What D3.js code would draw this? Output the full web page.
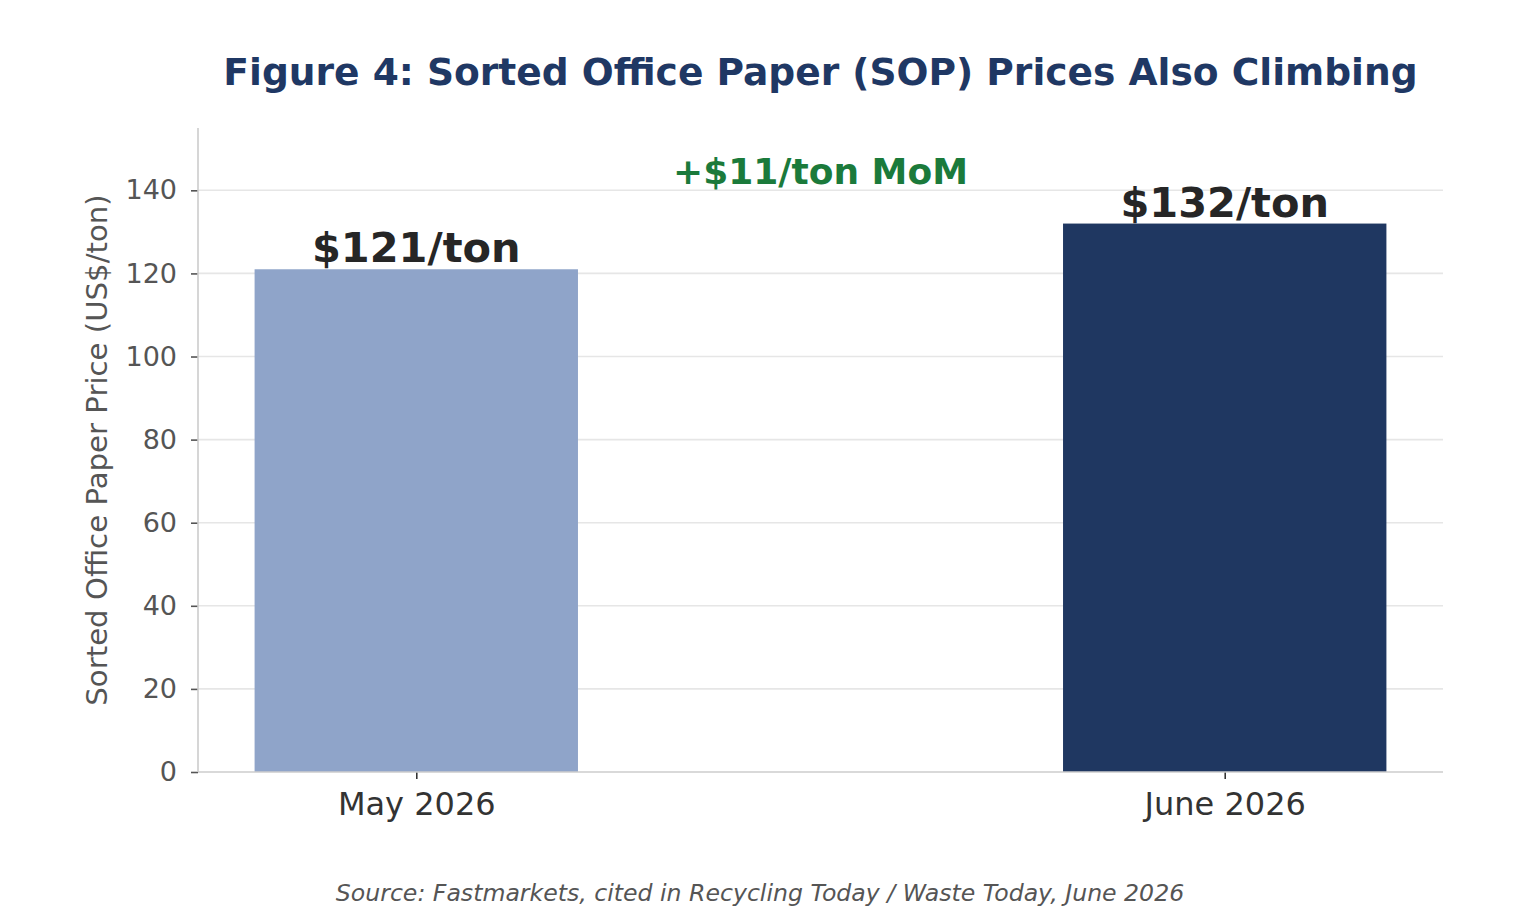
<!DOCTYPE html>
<html><head><meta charset="utf-8">
<script src="https://cdn.jsdelivr.net/npm/d3@7"></script>
<style>body{margin:0;background:#fff;} svg{display:block;font-family:"DejaVu Sans",sans-serif;}</style>
</head><body>
<svg id="c" width="1520" height="919"></svg>
<script>
const categories = ["May 2026", "June 2026"];
const prices = [121, 132];
const valueLabels = ["$121/ton", "$132/ton"];
const barColors = ["#8fa4c9", "#1f3761"];
const yTicks = [0, 20, 40, 60, 80, 100, 120, 140];
const titleText = "Figure 4: Sorted Office Paper (SOP) Prices Also Climbing";
const yLabel = "Sorted Office Paper Price (US$/ton)";
const changeText = "+$11/ton MoM";
const sourceText = "Source: Fastmarkets, cited in Recycling Today / Waste Today, June 2026";

const svg = d3.select("#c");
const m = {left:198, right:1443, top:128, bottom:772};

const x = d3.scaleLinear().domain([-0.27, 1.27]).range([m.left, m.right]);
const y = d3.scaleLinear().domain([0, 155]).range([m.bottom, m.top]);
const barW = 0.4;

// grid
svg.append("g").selectAll("line").data(yTicks.filter(d=>d>0)).join("line")
  .attr("x1", m.left).attr("x2", m.right)
  .attr("y1", d=>y(d)).attr("y2", d=>y(d))
  .attr("stroke", "#e6e6e6").attr("stroke-width", 1.6);

// bars
svg.append("g").selectAll("rect").data(prices).join("rect")
  .attr("x", (d,i)=>x(i - barW/2)).attr("width", (d,i)=>x(i+barW/2)-x(i-barW/2))
  .attr("y", d=>y(d)).attr("height", d=>y(0)-y(d))
  .attr("fill", (d,i)=>barColors[i]);

// y axis
const ya = svg.append("g").attr("transform", `translate(${m.left},0)`)
  .call(d3.axisLeft(y).tickValues(yTicks).tickSize(7).tickPadding(14));
ya.select(".domain").remove();
ya.selectAll(".tick line").attr("stroke", "#555").attr("stroke-width", 1.6);
ya.selectAll(".tick text").attr("fill", "#555").style("font-size", "27px").style("font-family", "DejaVu Sans");

// x axis
const xa = svg.append("g").attr("transform", `translate(0,${m.bottom})`)
  .call(d3.axisBottom(x).tickValues([0,1]).tickFormat((d)=>categories[d]).tickSize(7).tickPadding(13));
xa.select(".domain").remove();
xa.selectAll(".tick line").attr("stroke", "#333").attr("stroke-width", 1.6);
xa.selectAll(".tick text").attr("fill", "#333").style("font-size", "32px").style("font-family", "DejaVu Sans");

// spines
svg.append("line").attr("x1", m.left).attr("x2", m.left).attr("y1", m.top).attr("y2", m.bottom)
  .attr("stroke", "#cccccc").attr("stroke-width", 1.6);
svg.append("line").attr("x1", m.left).attr("x2", m.right).attr("y1", m.bottom).attr("y2", m.bottom)
  .attr("stroke", "#cccccc").attr("stroke-width", 1.6);

// value labels
svg.append("g").selectAll("text").data(prices).join("text")
  .attr("x", (d,i)=>x(i)).attr("y", d=>y(d)-7)
  .attr("text-anchor", "middle").attr("fill", "#262626")
  .style("font-size", "41.5px").style("font-weight", "bold")
  .text((d,i)=>valueLabels[i]);

// change annotation
svg.append("text").attr("x", x(0.5)).attr("y", y(141.5))
  .attr("text-anchor", "middle").attr("fill", "#1b7a3b")
  .style("font-size", "36px").style("font-weight", "bold").text(changeText);

// title
svg.append("text").attr("x", (m.left+m.right)/2).attr("y", 85)
  .attr("text-anchor", "middle").attr("fill", "#1f3864")
  .style("font-size", "37.6px").style("font-weight", "bold").text(titleText);

// y label
svg.append("text").attr("transform", `translate(107,${(m.top+m.bottom)/2 + 0}) rotate(-90)`)
  .attr("text-anchor", "middle").attr("fill", "#555")
  .style("font-size", "29.2px").text(yLabel);

// source
svg.append("text").attr("x", 760).attr("y", 901)
  .attr("text-anchor", "middle").attr("fill", "#555")
  .style("font-size", "23.6px").style("font-style", "italic").text(sourceText);
</script>
</body></html>
